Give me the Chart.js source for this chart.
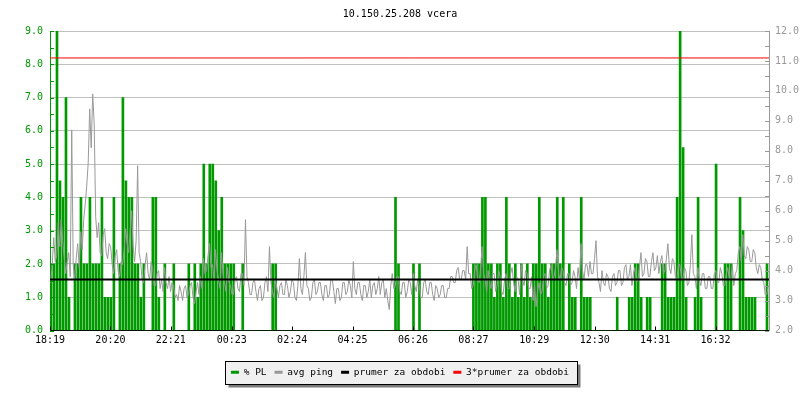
<!DOCTYPE html>
<html>
<head>
<meta charset="utf-8">
<title>10.150.25.208 vcera</title>
<script src="https://cdn.jsdelivr.net/npm/chart.js@4.4.0/dist/chart.umd.min.js"></script>
<style>
html, body { margin: 0; padding: 0; background: #fff; }
</style>
</head>
<body>
<canvas id="myChart" width="800" height="400"></canvas>
<script>
// time axis in minutes since 18:19
var plStep = 6;     // one PL sample every 6 minutes
var pingStep = 3;   // one ping sample every 3 minutes
var tickLabels = ["18:19", "20:20", "22:21", "00:23", "02:24", "04:25", "06:26", "08:27", "10:29", "12:30", "14:31", "16:32"];

// % PL (left axis)
var packetLoss = [
    2, 2, 9, 4.5, 4, 7, 1, 0, 2, 2,
    4, 2, 2, 4, 2, 2, 2, 4, 1, 1,
    1, 4, 0, 2, 7, 4.5, 4, 4, 2, 2,
    1, 2, 0, 0, 4, 4, 1, 0, 2, 0,
    0, 2, 0, 0, 0, 0, 2, 0, 2, 1,
    2, 5, 2, 5, 5, 4.5, 3, 4, 2, 2,
    2, 2, 0, 0, 2, 0, 0, 0, 0, 0,
    0, 0, 0, 0, 2, 2, 0, 0, 0, 0,
    0, 0, 0, 0, 0, 0, 0, 0, 0, 0,
    0, 0, 0, 0, 0, 0, 0, 0, 0, 0,
    0, 0, 0, 0, 0, 0, 0, 0, 0, 0,
    0, 0, 0, 0, 0, 4, 2, 0, 0, 0,
    0, 2, 0, 2, 0, 0, 0, 0, 0, 0,
    0, 0, 0, 0, 0, 0, 0, 0, 0, 0,
    0, 2, 2, 2, 4, 4, 2, 2, 1, 2,
    2, 1, 4, 2, 1, 2, 1, 2, 1, 2,
    1, 2, 2, 4, 2, 2, 1, 2, 2, 4,
    2, 4, 0, 2, 1, 1, 0, 4, 1, 1,
    1, 0, 0, 0, 0, 0, 0, 0, 0, 1,
    0, 0, 0, 1, 1, 2, 2, 1, 0, 1,
    1, 0, 0, 0, 2, 2, 1, 1, 1, 4,
    9, 5.5, 1, 0, 0, 1, 4, 1, 0, 0,
    0, 0, 5, 0, 0, 2, 2, 2, 0, 0,
    4, 3, 1, 1, 1, 1, 0, 0, 0, 2
];

// avg ping in ms (right axis)
var avgPing = [
    3.6, 4.2, 5.1, 4.3, 4.5, 5.6, 4.8, 5.7, 5.0, 4.4, 3.9, 4.3, 4.6, 3.8, 8.7, 4.2, 3.7, 4.4, 4.9, 4.1,
    5.3, 4.7, 5.7, 6.2, 6.8, 7.6, 9.4, 8.1, 9.9, 8.9, 5.8, 5.1, 5.6, 4.6, 4.5, 5.2, 5.4, 4.6, 4.4, 4.9,
    4.8, 4.2, 3.9, 4.5, 4.7, 4.0, 3.8, 4.3, 4.2, 4.7, 5.4, 4.9, 4.6, 5.3, 6.0, 4.8, 4.3, 5.0, 7.5, 4.6,
    4.3, 3.7, 3.6, 4.2, 4.6, 3.9, 3.7, 4.3, 4.1, 3.5, 3.5, 3.9, 4.0, 3.4, 3.7, 3.3, 4.1, 3.6, 3.4, 3.8,
    3.3, 3.6, 3.5, 3.1, 3.2, 3.0, 3.5, 3.3, 3.0, 3.4, 3.5, 3.1, 3.2, 3.5, 3.6, 3.1, 2.9, 3.3, 3.6, 3.2,
    3.8, 3.4, 4.4, 3.9, 4.0, 4.5, 4.9, 4.1, 4.2, 3.7, 4.7, 4.0, 3.7, 3.4, 4.6, 3.9, 3.6, 3.3, 4.1, 3.6,
    3.5, 3.2, 3.2, 3.7, 3.8, 3.4, 3.3, 3.9, 3.9, 3.5, 5.7, 3.8, 3.6, 3.2, 3.2, 3.6, 3.7, 3.3, 3.0, 3.4,
    3.5, 3.0, 3.1, 3.6, 3.8, 3.3, 4.8, 3.6, 3.3, 3.1, 3.7, 3.4, 3.1, 3.5, 3.6, 3.2, 3.2, 3.7, 3.5, 3.1,
    3.3, 3.7, 3.6, 3.1, 3.0, 3.5, 4.4, 3.4, 3.2, 3.8, 4.6, 3.5, 3.4, 3.0, 3.1, 3.6, 3.7, 3.2, 3.3, 3.6,
    3.6, 3.2, 3.0, 3.5, 3.5, 3.1, 3.2, 3.7, 3.7, 3.3, 2.9, 3.4, 3.4, 3.0, 3.1, 3.6, 3.6, 3.2, 3.3, 3.7,
    3.5, 3.1, 4.3, 3.4, 3.2, 3.6, 3.6, 3.2, 3.0, 3.5, 3.5, 3.1, 3.3, 3.7, 3.1, 3.5, 3.6, 3.2, 3.4, 3.8,
    3.2, 3.6, 3.7, 3.1, 3.4, 3.0, 2.7, 3.5, 3.9, 3.4, 3.5, 3.8, 3.8, 3.3, 3.2, 3.6, 3.6, 3.1, 3.3, 3.7,
    3.6, 3.2, 3.9, 3.5, 3.3, 3.7, 3.5, 3.1, 3.1, 3.6, 3.7, 3.3, 3.2, 3.6, 3.6, 3.2, 3.0, 3.5, 3.4, 3.1,
    3.2, 3.5, 3.5, 3.1, 3.1, 3.4, 3.4, 3.8, 3.8, 3.6, 3.6, 4.0, 4.1, 3.7, 3.7, 4.0, 4.0, 3.7, 4.8, 3.9,
    3.9, 3.4, 3.5, 4.0, 4.2, 3.7, 3.6, 4.1, 4.8, 3.9, 3.7, 3.3, 4.0, 3.6, 3.4, 3.9, 3.9, 3.3, 3.5, 4.0,
    3.8, 3.3, 3.2, 3.7, 3.9, 3.4, 3.4, 3.9, 4.1, 3.6, 3.3, 3.8, 3.7, 3.2, 4.2, 3.7, 3.5, 4.0, 3.9, 3.4,
    3.4, 3.8, 3.0, 3.5, 2.8, 3.3, 3.6, 3.2, 3.3, 3.8, 3.9, 3.4, 3.5, 4.0, 4.2, 3.7, 3.8, 4.1, 4.7, 3.9,
    3.7, 4.1, 4.0, 3.6, 3.5, 3.9, 3.9, 3.5, 3.6, 4.0, 3.8, 3.4, 4.1, 3.7, 4.9, 4.0, 3.7, 4.2, 4.2, 3.8,
    4.3, 3.9, 3.9, 4.4, 5.0, 3.8, 3.6, 3.3, 4.0, 3.6, 3.5, 3.9, 3.8, 3.4, 3.3, 3.8, 3.9, 3.5, 3.6, 4.0,
    4.0, 3.5, 3.6, 4.1, 4.2, 3.7, 3.8, 4.2, 3.5, 3.9, 4.1, 3.6, 3.7, 4.1, 4.6, 3.8, 3.9, 4.4, 4.3, 3.8,
    3.8, 4.3, 4.6, 4.0, 4.1, 4.5, 3.9, 4.3, 4.5, 3.9, 4.0, 4.4, 4.9, 4.1, 3.9, 4.4, 4.3, 3.8, 3.7, 4.2,
    4.2, 3.8, 3.7, 4.1, 4.0, 3.5, 3.6, 4.2, 5.2, 3.9, 3.8, 3.4, 4.1, 3.7, 3.5, 3.9, 3.9, 3.4, 3.4, 3.8,
    3.8, 3.4, 3.4, 3.9, 4.0, 3.6, 3.6, 4.1, 3.9, 3.5, 3.5, 3.9, 4.1, 3.7, 3.7, 4.2, 3.5, 3.9, 4.0, 4.6,
    4.8, 4.3, 5.2, 4.5, 4.4, 4.8, 4.7, 4.3, 4.3, 4.7, 4.6, 4.1, 3.9, 4.2, 4.1, 3.7, 3.6, 3.2, 3.2, 3.5
];

var periodAvg = 3.7;    // prumer za obdobi
var periodAvg3 = 11.1;  // 3*prumer za obdobi

var green = "#009a00";
var gray = "#999999";
var font = "'DejaVu Sans Mono', monospace";

function toMinutes(label) {
    var p = label.split(":"), s = tickLabels[0].split(":");
    var m = (+p[0]) * 60 + (+p[1]) - ((+s[0]) * 60 + (+s[1]));
    return (m + 1440) % 1440;
}

function series(values, step, shift) {
    return values.map(function (v, i) {
        return { x: i * step + shift, y: v };
    });
}

var flat = function (v) { return [{ x: 0, y: v }, { x: 1440, y: v }]; };

// white page, legend box with shadow
var backdrop = {
    id: "backdrop",
    beforeDraw: function (chart) {
        var ctx = chart.ctx;
        ctx.save();
        ctx.fillStyle = "#fff";
        ctx.fillRect(0, 0, chart.width, chart.height);
        var hb = chart.legend.legendHitBoxes;
        if (hb && hb.length) {
            var l = Math.min.apply(null, hb.map(function (b) { return b.left; })) - 6;
            var r = Math.max.apply(null, hb.map(function (b) { return b.left + b.width; })) + 8;
            var t = hb[0].top - 7, b = hb[0].top + hb[0].height + 7;
            l = Math.round(l) + 0.5; r = Math.round(r) + 0.5;
            t = Math.round(t) + 0.5; b = Math.round(b) + 0.5;
            ctx.fillStyle = "#7a7a7a";
            ctx.fillRect(l + 3, t + 3, r - l, b - t);
            ctx.fillStyle = "#f0f0f0";
            ctx.fillRect(l, t, r - l, b - t);
            ctx.strokeStyle = "#000";
            ctx.lineWidth = 1;
            ctx.strokeRect(l, t, r - l, b - t);
        }
        ctx.restore();
    }
};

// short tick marks pointing into the plot
var innerTicks = {
    id: "innerTicks",
    afterDatasetsDraw: function (chart) {
        var ctx = chart.ctx, a = chart.chartArea, s = chart.scales;
        ctx.save();
        ctx.lineWidth = 1;
        function mark(x1, y1, x2, y2) {
            ctx.beginPath(); ctx.moveTo(x1, y1); ctx.lineTo(x2, y2); ctx.stroke();
        }
        ctx.strokeStyle = green;
        for (var v = s.y.min; v <= s.y.max; v += 0.5) {
            var py = Math.round(s.y.getPixelForValue(v)) + 0.5;
            mark(a.left, py, a.left + 4, py);
        }
        ctx.strokeStyle = gray;
        for (var w = s.y2.min; w <= s.y2.max; w += 0.5) {
            var qy = Math.round(s.y2.getPixelForValue(w)) + 0.5;
            mark(a.right - 4, qy, a.right, qy);
        }
        ctx.strokeStyle = "#000";
        s.x.ticks.forEach(function (t) {
            var px = Math.round(s.x.getPixelForValue(t.value)) + 0.5;
            mark(px, a.bottom, px, a.bottom - 4);
        });
        ctx.restore();
    }
};

var ctx = document.getElementById("myChart");

var myChart = new Chart(ctx, {
    type: "bar",
    data: {
        datasets: [
            {
                label: "% PL",
                data: series(packetLoss, plStep, 2),
                backgroundColor: green,
                borderWidth: 0,
                barThickness: 2,
                yAxisID: "y",
                order: 4
            },
            {
                type: "line",
                label: "avg ping",
                data: series(avgPing, pingStep, 1.5),
                borderColor: gray,
                backgroundColor: gray,
                borderWidth: 1,
                pointRadius: 0,
                tension: 0,
                yAxisID: "y2",
                order: 3
            },
            {
                type: "line",
                label: "prumer za obdobi",
                data: flat(periodAvg),
                borderColor: "#000",
                backgroundColor: "#000",
                borderWidth: 2,
                pointRadius: 0,
                yAxisID: "y2",
                order: 2
            },
            {
                type: "line",
                label: "3*prumer za obdobi",
                data: flat(periodAvg3),
                borderColor: "#ff0000",
                backgroundColor: "#ff0000",
                borderWidth: 1,
                pointRadius: 0,
                yAxisID: "y2",
                order: 1
            }
        ]
    },
    options: {
        responsive: false,
        animation: false,
        layout: { padding: { left: 0, right: 0, top: 0, bottom: 13 } },
        plugins: {
            title: {
                display: true,
                text: "10.150.25.208 vcera",
                color: "#000",
                font: { family: font, size: 10, weight: "normal" },
                padding: { top: 8, bottom: 11 }
            },
            legend: {
                position: "bottom",
                labels: {
                    color: "#000",
                    font: { family: font, size: 9.5 },
                    boxWidth: 8,
                    boxHeight: 3,
                    padding: 8,
                    sort: function (a, b) { return a.datasetIndex - b.datasetIndex; },
                    generateLabels: function (chart) {
                        var items = Chart.defaults.plugins.legend.labels.generateLabels(chart);
                        items.forEach(function (it) { it.lineWidth = 0; });
                        return items;
                    }
                }
            },
            tooltip: { enabled: false }
        },
        scales: {
            x: {
                type: "linear",
                min: 0,
                max: 1440,
                offset: false,
                afterBuildTicks: function (scale) {
                    scale.ticks = tickLabels.map(function (l) { return { value: toMinutes(l) }; });
                },
                afterFit: function (scale) { scale.height = 29; },
                ticks: {
                    autoSkip: false,
                    maxRotation: 0,
                    padding: 4,
                    color: "#000",
                    font: { family: font, size: 10 },
                    callback: function (v, i) { return tickLabels[i]; }
                },
                grid: { drawOnChartArea: false, drawTicks: false },
                border: { color: "#000", width: 1 }
            },
            y: {
                position: "left",
                min: 0,
                max: 9,
                afterFit: function (scale) { scale.width = 50; },
                ticks: {
                    stepSize: 1,
                    padding: 7,
                    color: green,
                    font: { family: font, size: 10 },
                    callback: function (v) { return v.toFixed(1); }
                },
                grid: { color: "#c0c0c0", drawTicks: false },
                border: { color: green, width: 1 }
            },
            y2: {
                position: "right",
                min: 2,
                max: 12,
                afterFit: function (scale) { scale.width = 31; },
                ticks: {
                    stepSize: 1,
                    padding: 6,
                    color: gray,
                    font: { family: font, size: 10 },
                    callback: function (v) { return v.toFixed(1); }
                },
                grid: { drawOnChartArea: false, drawTicks: false },
                border: { color: gray, width: 1 }
            }
        }
    },
    plugins: [backdrop, innerTicks]
});
</script>
</body>
</html>
